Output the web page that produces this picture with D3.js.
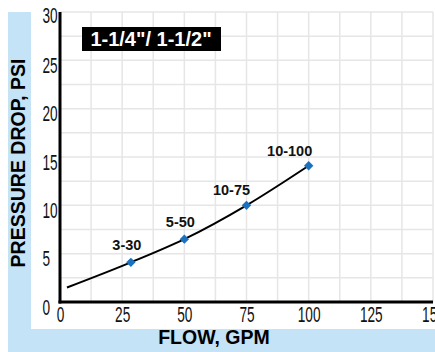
<!DOCTYPE html>
<html>
<head>
<meta charset="utf-8">
<script src="https://cdn.jsdelivr.net/npm/d3@7"></script>
<style>
  body { margin: 0; background: #fff; }
  svg { display: block; }
</style>
</head>
<body>
<svg width="435" height="352"></svg>
<script>
// data
const flow = [28.5, 50, 75, 100];
const psi = [4.1, 6.5, 10.0, 14.1];
const pointLabels = ["3-30", "5-50", "10-75", "10-100"];
const curveStart = [2.8, 1.5];
const xTicks = [0, 25, 50, 75, 100, 125, 150];
const yTicks = [0, 5, 10, 15, 20, 25, 30];
const title = "1-1/4\"/ 1-1/2\"";

// label placement relative to each marker
const labelDx = [-4, -4, -15, -19];
const labelDy = [-12, -12, -10, -10];

const svg = d3.select("svg");
const blue = "#c4e3f7";

// light blue L-shaped frame
svg.append("rect").attr("x", 8).attr("y", 12).attr("width", 23).attr("height", 340).attr("fill", blue);
svg.append("rect").attr("x", 8).attr("y", 329).attr("width", 427).attr("height", 23).attr("fill", blue);

const x = d3.scaleLinear().domain([0, 150]).range([60, 433]);
const y = d3.scaleLinear().domain([0, 30]).range([302, 12]);

// grid every half tick
const grid = svg.append("g").attr("stroke", "#e6e6e6").attr("stroke-width", 1.5);
grid.selectAll(".gx")
  .data(d3.range(12.5, 150.1, 12.5))
  .enter().append("line")
  .attr("x1", d => x(d)).attr("x2", d => x(d))
  .attr("y1", y(0)).attr("y2", y(30));
grid.selectAll(".gy")
  .data(d3.range(2.5, 30.1, 2.5))
  .enter().append("line")
  .attr("x1", x(0)).attr("x2", x(150))
  .attr("y1", d => y(d)).attr("y2", d => y(d));

// axes (narrow tall digits)
const numFont = "'Liberation Sans', Arial, sans-serif";
const squeeze = 0.62;

const xAxis = svg.append("g")
  .attr("transform", `translate(0,${y(0)})`)
  .call(d3.axisBottom(x).tickValues(xTicks).tickSize(0).tickFormat(d3.format("d")));
xAxis.select(".domain").remove();
xAxis.selectAll("text")
  .attr("y", 20).attr("dy", 0)
  .attr("font-family", numFont).attr("font-size", 22).attr("fill", "#111")
  .attr("transform", `scale(${squeeze},1)`);

const yAxis = svg.append("g")
  .attr("transform", `translate(${x(0)},0)`)
  .call(d3.axisLeft(y).tickValues(yTicks).tickSize(0).tickFormat(d3.format("d")));
yAxis.select(".domain").remove();
yAxis.selectAll("text")
  .attr("text-anchor", "start")
  .attr("x", (42.5 - x(0)) / squeeze).attr("dy", "0.32em").attr("y", 5)
  .attr("font-family", numFont).attr("font-size", 22).attr("fill", "#111")
  .attr("transform", `scale(${squeeze},1)`);
yAxis.select(".tick:last-of-type text").attr("y", 3);

svg.append("line")
  .attr("x1", x(0)).attr("x2", x(0)).attr("y1", y(30)).attr("y2", y(0) + 1.5)
  .attr("stroke", "#000").attr("stroke-width", 3);
svg.append("line")
  .attr("x1", x(0) - 1.5).attr("x2", x(150)).attr("y1", y(0)).attr("y2", y(0))
  .attr("stroke", "#000").attr("stroke-width", 3);

// axis titles
svg.append("text")
  .attr("transform", "translate(25,163) rotate(-90)")
  .attr("text-anchor", "middle")
  .attr("font-family", "Arial, 'Liberation Sans', sans-serif")
  .attr("font-weight", "bold").attr("font-size", 19.5)
  .text("PRESSURE DROP, PSI");

svg.append("text")
  .attr("x", 214).attr("y", 344)
  .attr("text-anchor", "middle")
  .attr("font-family", "Arial, 'Liberation Sans', sans-serif")
  .attr("font-weight", "bold").attr("font-size", 19.5)
  .text("FLOW, GPM");

// title box
svg.append("rect")
  .attr("x", 82).attr("y", 27).attr("width", 139).attr("height", 24)
  .attr("fill", "#000");
svg.append("text")
  .attr("x", 151).attr("y", 46)
  .attr("text-anchor", "middle")
  .attr("font-family", "Arial, 'Liberation Sans', sans-serif")
  .attr("font-weight", "bold").attr("font-size", 20)
  .attr("fill", "#fff")
  .text(title);

// curve
const pts = [curveStart].concat(flow.map((f, i) => [f, psi[i]]));
const line = d3.line()
  .x(d => x(d[0])).y(d => y(d[1]))
  .curve(d3.curveMonotoneX);
svg.append("path")
  .datum(pts)
  .attr("d", line)
  .attr("fill", "none")
  .attr("stroke", "#000")
  .attr("stroke-width", 2);

// markers
svg.selectAll(".pt")
  .data(flow)
  .enter().append("path")
  .attr("class", "pt")
  .attr("d", d3.symbol(d3.symbolSquare, 44))
  .attr("transform", (d, i) => `translate(${x(d)},${y(psi[i])}) rotate(45)`)
  .attr("fill", "#1a72bf");

svg.selectAll(".lbl")
  .data(flow)
  .enter().append("text")
  .attr("class", "lbl")
  .attr("x", (d, i) => x(d) + labelDx[i])
  .attr("y", (d, i) => y(psi[i]) + labelDy[i])
  .attr("text-anchor", "middle")
  .attr("font-family", "Arial, 'Liberation Sans', sans-serif")
  .attr("font-weight", "bold").attr("font-size", 14.5)
  .attr("fill", "#111")
  .text((d, i) => pointLabels[i]);
</script>
</body>
</html>
